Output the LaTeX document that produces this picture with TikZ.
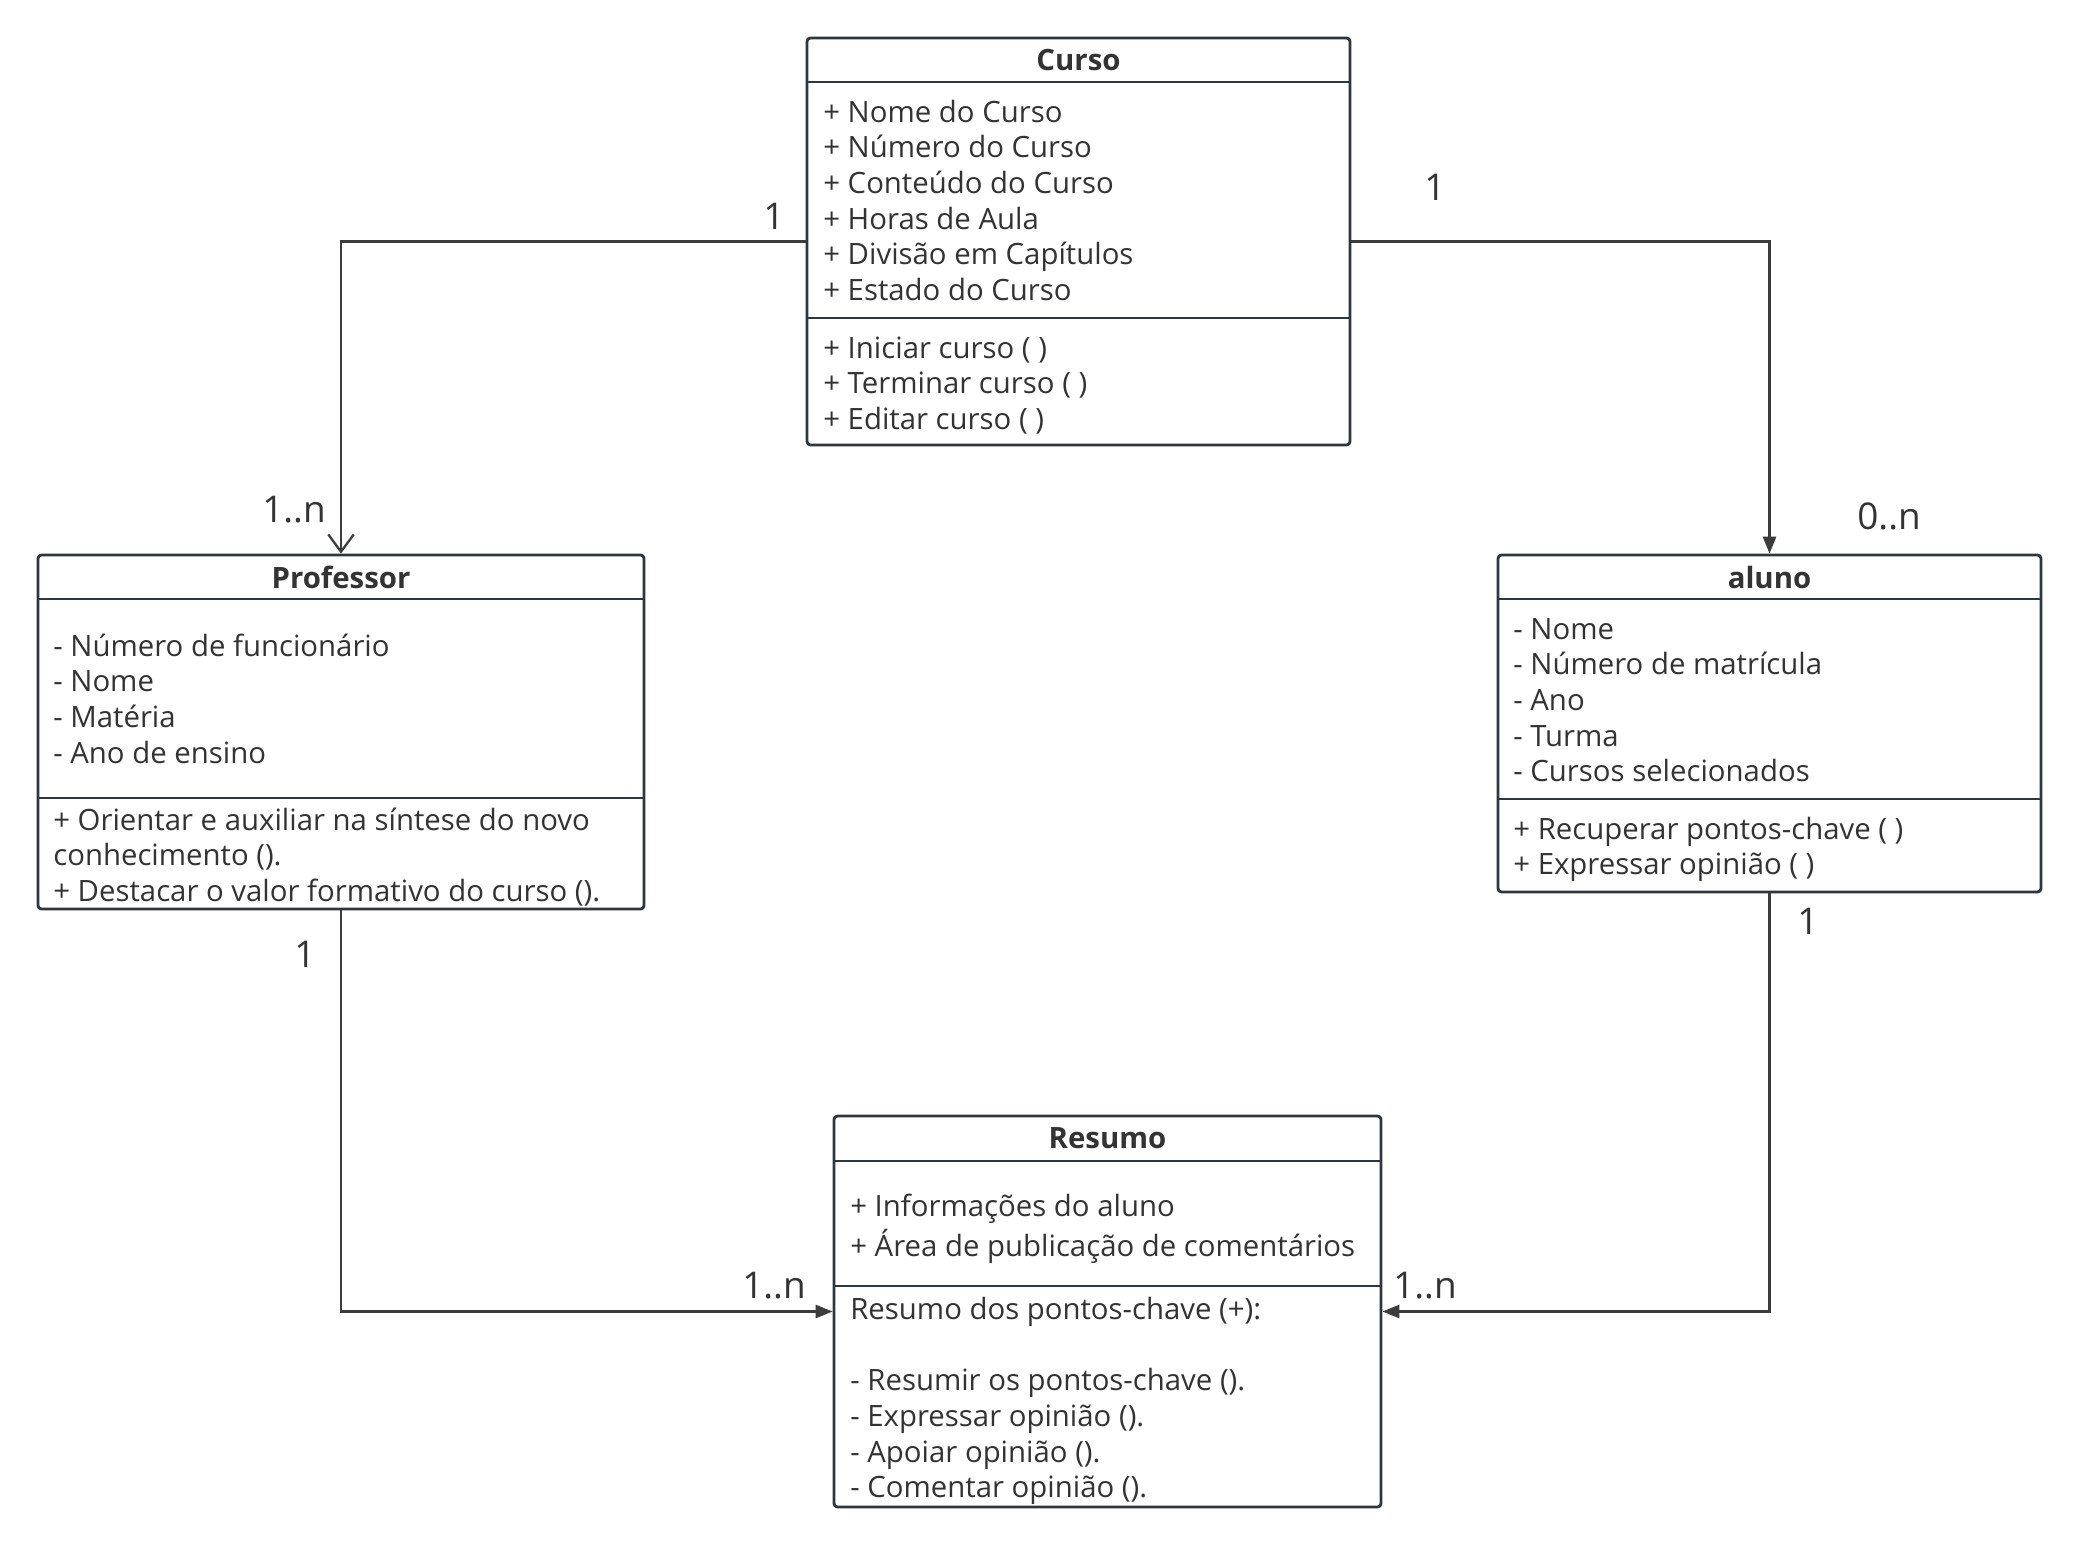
\documentclass[tikz,border=0pt]{standalone}
\usepackage{fontspec}
\setmainfont{Open Sans}
\usetikzlibrary{arrows.meta,fit}
\definecolor{umlline}{HTML}{2E3740}
\definecolor{umltext}{HTML}{333333}
\definecolor{linkline}{HTML}{3C3C3C}

\begin{document}
\begin{tikzpicture}[x=0.02cm, y=-0.02cm,
  umlbox/.style={draw=umlline, line width=1.6pt, rounded corners=2pt, inner sep=0pt, fill=white},
  sepline/.style={umlline, line width=1.6pt},
  title/.style={font=\fontsize{16.7}{20.3}\selectfont\bfseries, text=umltext},
  members/.style={anchor=north west, align=left, inner sep=0pt, font=\fontsize{16.7}{20.3}\selectfont, text=umltext},
  mult/.style={font=\fontsize{21}{24}\selectfont, text=umltext},
  assoc/.style={draw=linkline, line width=1.3pt},
  opentip/.style={-{Straight Barb[length=9.8pt,width=14.5pt]}},
  filltip/.style={-{Triangle[length=9.6pt,width=7.4pt]}}
]

% Background
\fill[white] (0,0) rectangle (2078,1544);
\useasboundingbox (0,0) rectangle (2078,1544);

% === CURSO ===
\node[umlbox, fit={(807,38) (1350,445)}] (curso) {};
\draw[sepline] (807,82) -- (1350,82);
\draw[sepline] (807,318) -- (1350,318);
\node[title] (curso-title) at (1078.5,60) {Curso};
\node[members] (curso-attr) at (823,97) {\strut + Nome do Curso\\
  + Número do Curso\\
  + Conteúdo do Curso\\
  + Horas de Aula\\
  + Divisão em Capítulos\\
  + Estado do Curso};
\node[members] (curso-ops) at (823,333) {\strut + Iniciar curso ( )\\
  + Terminar curso ( )\\
  + Editar curso ( )};

% === PROFESSOR ===
\node[umlbox, fit={(38,555) (644,909)}] (prof) {};
\draw[sepline] (38,599) -- (644,599);
\draw[sepline] (38,798) -- (644,798);
\node[title] (prof-title) at (341,577) {Professor};
\node[members] (prof-attr) at (53,631) {\strut - Número de funcionário\\
  - Nome\\
  - Matéria\\
  - Ano de ensino};
\node[members] (prof-ops) at (53,805) {\strut + Orientar e auxiliar na síntese do novo\\
  conhecimento ().\\
  + Destacar o valor formativo do curso ().};

% === ALUNO ===
\node[umlbox, fit={(1498,555) (2041,892)}] (aluno) {};
\draw[sepline] (1498,599) -- (2041,599);
\draw[sepline] (1498,799) -- (2041,799);
\node[title] (aluno-title) at (1769.5,577) {aluno};
\node[members] (aluno-attr) at (1513,614) {\strut - Nome\\
  - Número de matrícula\\
  - Ano\\
  - Turma\\
  - Cursos selecionados};
\node[members] (aluno-ops) at (1513,814) {\strut + Recuperar pontos-chave ( )\\
  + Expressar opinião ( )};

% === RESUMO ===
\node[umlbox, fit={(834,1116) (1381,1507)}] (resumo) {};
\draw[sepline] (834,1161) -- (1381,1161);
\draw[sepline] (834,1286) -- (1381,1286);
\node[title] (resumo-title) at (1107.5,1138) {Resumo};
\node[members] (resumo-attr) at (850,1191) {\strut + Informações do aluno\\
  + Área de publicação de comentários};
\node[members] (resumo-ops) at (850,1294) {\strut Resumo dos pontos-chave (+):\\[20.3pt]
  - Resumir os pontos-chave ().\\
  - Expressar opinião ().\\
  - Apoiar opinião ().\\
  - Comentar opinião ().};

% === ASSOCIATIONS ===
\draw[assoc, opentip] (curso.west) -| (prof.north);
\draw[assoc, filltip] (curso.east) -| (aluno.north);
\draw[assoc, filltip] (prof.south) |- (resumo.west);
\draw[assoc, filltip] (aluno.south) |- (resumo.east);

% multiplicities
\node[mult] (m-cp-1) at (774,216) {1};
\node[mult] (m-cp-n) at (294,510) {1..n};
\node[mult] (m-ca-1) at (1435,187) {1};
\node[mult] (m-ca-n) at (1889,516) {0..n};
\node[mult] (m-pr-1) at (305,954) {1};
\node[mult] (m-pr-n) at (774,1286) {1..n};
\node[mult] (m-ar-1) at (1808,921) {1};
\node[mult] (m-ar-n) at (1425,1286) {1..n};

\end{tikzpicture}
\end{document}
